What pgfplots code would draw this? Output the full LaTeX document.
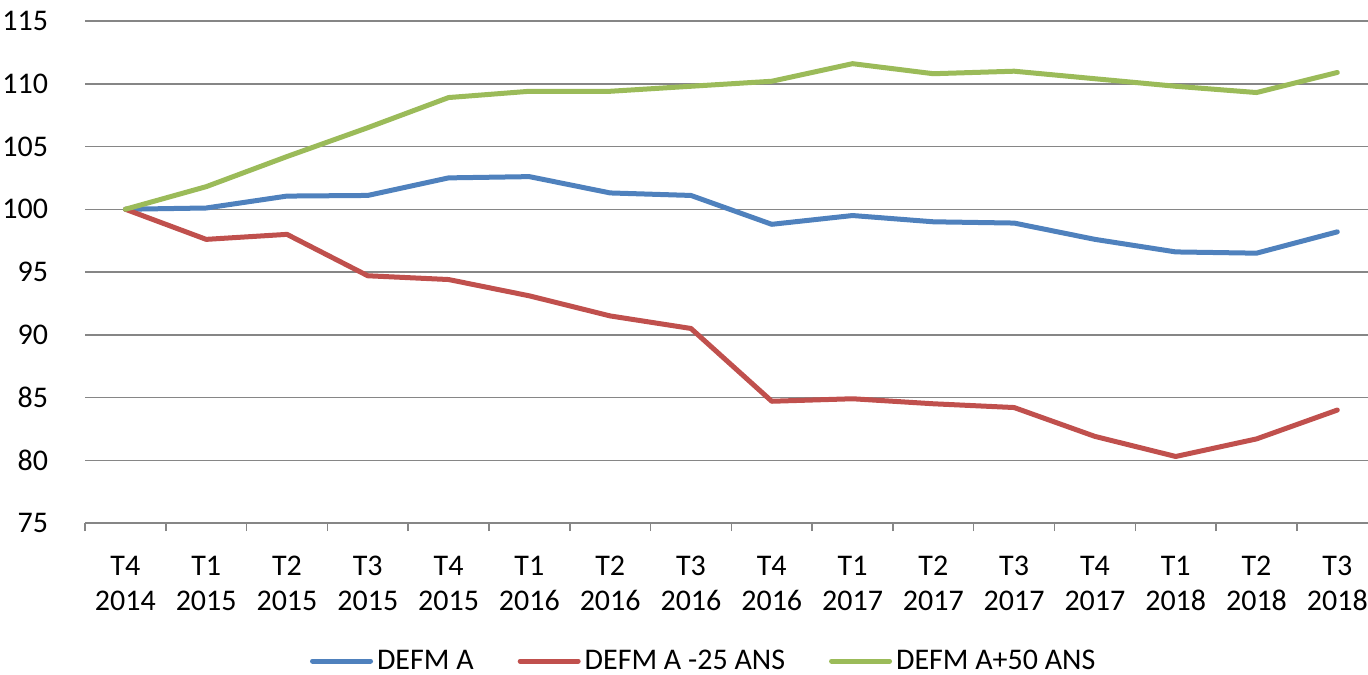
\documentclass[border=0pt]{standalone}
\usepackage{pgfplots}
\pgfplotsset{compat=1.18}
\usepackage{fontspec}
\setmainfont{Carlito}
\definecolor{defmblue}{HTML}{4F81BD}
\definecolor{defmred}{HTML}{C0504D}
\definecolor{defmgreen}{HTML}{9BBB59}
\definecolor{gridgray}{RGB}{134,134,134}
\begin{document}
\begin{tikzpicture}
\begin{axis}[
    scale only axis,
    width=641.5pt, height=251pt,
    font=\fontsize{15}{17.5}\selectfont,
    /pgf/number format/assume math mode=true,
    xmin=-0.5, xmax=15.38,
    ymin=75, ymax=115,
    ytick={75,80,...,115},
    ymajorgrids,
    grid style={gridgray, line width=0.75pt},
    axis lines*=left,
    x axis line style={gridgray, line width=0.75pt},
    y axis line style={draw=none},
    ytick style={draw=none},
    yticklabel style={anchor=east, inner sep=0pt, xshift=-14pt},
    xtick={0,...,15},
    xticklabels={{T4\\2014},{T1\\2015},{T2\\2015},{T3\\2015},{T4\\2015},{T1\\2016},{T2\\2016},{T3\\2016},{T4\\2016},{T1\\2017},{T2\\2017},{T3\\2017},{T4\\2017},{T1\\2018},{T2\\2018},{T3\\2018}},
    xticklabel style={align=center, anchor=north, inner sep=0pt, yshift=-12pt},
    major x tick style={draw=none},
    minor xtick={-0.5,0.5,...,14.5},
    minor x tick style={gridgray, line width=0.75pt},
    minor tick length=4pt,
    tick align=outside,
    legend columns=3,
    legend style={draw=none, at={(0.483,-0.275)}, anchor=center,
        font=\fontsize{15}{17}\selectfont,
        /tikz/every even column/.append style={column sep=20pt}},
    legend cell align=left,
    legend image code/.code={\draw[#1] (0pt,0pt) -- (29pt,0pt);},
    every axis plot/.append style={line width=2.5pt, line join=round, line cap=round},
]
\addplot[defmblue] coordinates {
    (0,100) (1,100.1) (2,101.05) (3,101.1) (4,102.5) (5,102.6) (6,101.3) (7,101.1)
    (8,98.8) (9,99.5) (10,99.0) (11,98.9) (12,97.6) (13,96.6) (14,96.5) (15,98.2)
};
\addlegendentry{DEFM A}
\addplot[defmred] coordinates {
    (0,100) (1,97.6) (2,98.0) (3,94.7) (4,94.4) (5,93.1) (6,91.5) (7,90.5)
    (8,84.7) (9,84.9) (10,84.5) (11,84.2) (12,81.9) (13,80.3) (14,81.7) (15,84.0)
};
\addlegendentry{DEFM A -25 ANS}
\addplot[defmgreen] coordinates {
    (0,100) (1,101.8) (2,104.2) (3,106.5) (4,108.9) (5,109.4) (6,109.4) (7,109.8)
    (8,110.2) (9,111.6) (10,110.8) (11,111.0) (12,110.4) (13,109.8) (14,109.3) (15,110.9)
};
\addlegendentry{DEFM A+50 ANS}
\end{axis}
\pgfresetboundingbox
\path[use as bounding box] (-42.5pt,-75.5pt) rectangle (641.5pt,261.5pt);
\end{tikzpicture}
\end{document}
